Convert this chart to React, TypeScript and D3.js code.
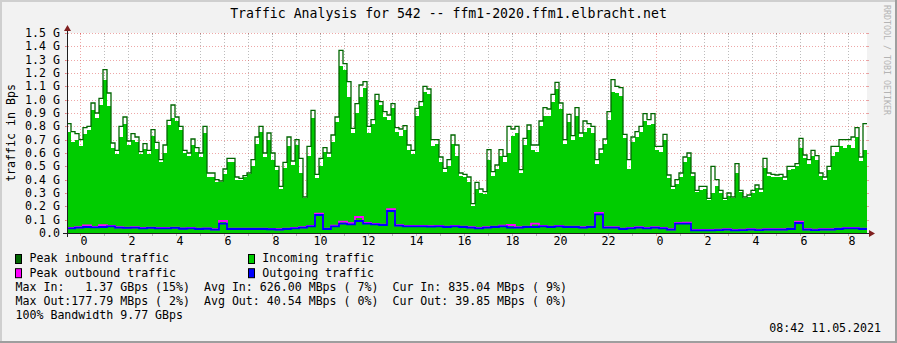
import React, { useEffect } from 'react';
import * as d3 from 'd3';

// ---------- data ----------
const title = 'Traffic Analysis for 542 -- ffm1-2020.ffm1.elbracht.net';
const yAxisTitle = 'traffic in Bps';
const watermark = 'RRDTOOL / TOBI OETIKER';
const timestamp = '08:42 11.05.2021';

// time window (UTC used as the local clock of the graph)
const startTime = Date.UTC(2021, 4, 9, 23, 27, 30);
const spanSeconds = 120000;
const inStepSeconds = 600;
const outStepSeconds = 1200;

// values in G (1e9) Bytes/s
const inPeak = [
  0.82, 0.76, 0.745, 0.70, 0.79, 0.80, 0.975, 0.90, 1.01, 1.225,
  1.05, 0.675, 0.62, 0.80, 0.87, 0.69, 0.745, 0.72, 0.61, 0.67,
  0.62, 0.775, 0.68, 0.55, 0.66, 0.845, 0.96, 0.87, 0.80, 0.62,
  0.60, 0.705, 0.64, 0.60, 0.80, 0.45, 0.45, 0.40, 0.39, 0.48,
  0.56, 0.56, 0.42, 0.41, 0.43, 0.45, 0.55, 0.72, 0.80, 0.60,
  0.75, 0.60, 0.50, 0.35, 0.53, 0.72, 0.54, 0.70, 0.56, 0.27,
  0.65, 0.92, 0.44, 0.56, 0.64, 0.60, 0.735, 0.87, 1.37, 1.27,
  1.135, 0.785, 0.97, 1.11, 1.135, 0.80, 0.85, 1.04, 0.985, 0.91,
  0.885, 0.97, 0.79, 0.78, 0.805, 0.66, 0.62, 0.935, 0.985, 1.10,
  1.08, 0.70, 0.70, 0.57, 0.485, 0.55, 0.735, 0.66, 0.45, 0.44,
  0.42, 0.22, 0.38, 0.33, 0.31, 0.625, 0.46, 0.51, 0.625, 0.575,
  0.80, 0.78, 0.80, 0.475, 0.71, 0.81, 0.66, 0.66, 0.84, 0.94,
  0.93, 1.04, 1.13, 0.975, 0.70, 0.89, 0.73, 0.94, 0.75, 0.84,
  0.82, 0.80, 0.55, 0.63, 0.705, 0.91, 1.15, 1.10, 1.09, 0.74,
  0.55, 0.72, 0.76, 0.80, 0.895, 0.85, 0.895, 0.65, 0.65, 0.74,
  0.435, 0.35, 0.40, 0.45, 0.57, 0.60, 0.45, 0.32, 0.35, 0.35,
  0.26, 0.50, 0.40, 0.32, 0.26, 0.30, 0.27, 0.52, 0.32, 0.27,
  0.285, 0.32, 0.36, 0.33, 0.56, 0.45, 0.44, 0.435, 0.44, 0.42,
  0.50, 0.50, 0.52, 0.71, 0.585, 0.55, 0.62, 0.58, 0.45, 0.42,
  0.50, 0.65, 0.65, 0.70, 0.70, 0.70, 0.72, 0.79, 0.57, 0.82,
];

const inAvg = [
  0.76, 0.68, 0.70, 0.65, 0.74, 0.77, 0.92, 0.86, 0.96, 1.15,
  0.95, 0.64, 0.59, 0.72, 0.82, 0.66, 0.70, 0.68, 0.59, 0.63,
  0.59, 0.73, 0.63, 0.53, 0.60, 0.81, 0.86, 0.84, 0.77, 0.60,
  0.58, 0.66, 0.61, 0.57, 0.75, 0.42, 0.42, 0.38, 0.38, 0.44,
  0.53, 0.53, 0.40, 0.40, 0.42, 0.44, 0.50, 0.67, 0.76, 0.57,
  0.70, 0.55, 0.47, 0.33, 0.49, 0.65, 0.51, 0.66, 0.45, 0.26,
  0.58, 0.86, 0.41, 0.50, 0.61, 0.57, 0.68, 0.83, 1.25, 1.22,
  1.02, 0.75, 0.90, 1.02, 1.09, 0.75, 0.82, 1.00, 0.96, 0.87,
  0.85, 0.94, 0.76, 0.73, 0.77, 0.62, 0.59, 0.88, 0.95, 1.06,
  1.04, 0.65, 0.67, 0.53, 0.46, 0.50, 0.67, 0.58, 0.43, 0.42,
  0.38, 0.20, 0.33, 0.30, 0.29, 0.55, 0.43, 0.48, 0.58, 0.53,
  0.60, 0.73, 0.75, 0.45, 0.66, 0.77, 0.62, 0.61, 0.80, 0.88,
  0.88, 0.98, 1.08, 0.93, 0.67, 0.83, 0.70, 0.88, 0.72, 0.76,
  0.79, 0.75, 0.52, 0.60, 0.67, 0.85, 1.06, 1.05, 1.03, 0.71,
  0.48, 0.68, 0.72, 0.76, 0.84, 0.81, 0.82, 0.62, 0.61, 0.70,
  0.41, 0.33, 0.37, 0.42, 0.53, 0.57, 0.43, 0.31, 0.32, 0.33,
  0.25, 0.30, 0.35, 0.30, 0.25, 0.28, 0.26, 0.45, 0.31, 0.26,
  0.27, 0.30, 0.34, 0.31, 0.49, 0.43, 0.42, 0.42, 0.42, 0.40,
  0.47, 0.48, 0.50, 0.64, 0.56, 0.52, 0.58, 0.55, 0.43, 0.40,
  0.47, 0.58, 0.61, 0.65, 0.64, 0.66, 0.64, 0.72, 0.54, 0.62,
];

const outAvg = [
  0.035, 0.04, 0.045, 0.042, 0.045, 0.05, 0.04, 0.038, 0.04, 0.035,
  0.038, 0.035, 0.035, 0.038, 0.032, 0.035, 0.03, 0.032, 0.025, 0.07,
  0.03, 0.03, 0.03, 0.03, 0.03, 0.028, 0.025, 0.03, 0.035, 0.04,
  0.05, 0.135, 0.03, 0.05, 0.07, 0.065, 0.09, 0.07, 0.065, 0.06,
  0.165, 0.055, 0.05, 0.05, 0.05, 0.048, 0.05, 0.045, 0.05, 0.045,
  0.04, 0.035, 0.04, 0.045, 0.05, 0.04, 0.04, 0.045, 0.045, 0.05,
  0.045, 0.05, 0.045, 0.045, 0.04, 0.045, 0.14, 0.04, 0.04, 0.03,
  0.035, 0.04, 0.035, 0.04, 0.035, 0.025, 0.07, 0.07, 0.02, 0.02,
  0.02, 0.022, 0.025, 0.02, 0.022, 0.025, 0.022, 0.025, 0.025, 0.025,
  0.03, 0.075, 0.025, 0.022, 0.025, 0.025, 0.03, 0.035, 0.035, 0.03,
];

const outPeak = [
  0.038, 0.043, 0.057, 0.045, 0.058, 0.053, 0.043, 0.041, 0.043, 0.038,
  0.041, 0.038, 0.038, 0.041, 0.035, 0.038, 0.033, 0.035, 0.028, 0.09,
  0.033, 0.033, 0.033, 0.033, 0.033, 0.031, 0.028, 0.033, 0.038, 0.043,
  0.053, 0.145, 0.033, 0.055, 0.085, 0.073, 0.12, 0.075, 0.068, 0.063,
  0.178, 0.058, 0.053, 0.053, 0.053, 0.051, 0.053, 0.048, 0.053, 0.048,
  0.043, 0.038, 0.043, 0.048, 0.055, 0.06, 0.043, 0.048, 0.07, 0.053,
  0.048, 0.053, 0.048, 0.048, 0.043, 0.048, 0.15, 0.043, 0.043, 0.033,
  0.038, 0.043, 0.038, 0.043, 0.038, 0.028, 0.075, 0.078, 0.023, 0.023,
  0.023, 0.025, 0.028, 0.023, 0.025, 0.028, 0.025, 0.028, 0.028, 0.028,
  0.033, 0.085, 0.028, 0.025, 0.028, 0.028, 0.033, 0.038, 0.038, 0.033,
];

const yTicks = [0, 0.1, 0.2, 0.3, 0.4, 0.5, 0.6, 0.7, 0.8, 0.9, 1.0, 1.1, 1.2, 1.3, 1.4, 1.5];

const legendLabels = ['Peak inbound traffic', 'Incoming traffic', 'Peak outbound traffic', 'Outgoing traffic'];
const legendColors = ['#006600', '#00CC00', '#FF00FF', '#0000FF'];

const statLines = [
  'Max In:   1.37 GBps (15%)  Avg In: 626.00 MBps ( 7%)  Cur In: 835.04 MBps ( 9%)',
  'Max Out:177.79 MBps ( 2%)  Avg Out: 40.54 MBps ( 0%)  Cur Out: 39.85 MBps ( 0%)',
  '100% Bandwidth 9.77 GBps',
];

// ---------- layout ----------
const W = 897;
const H = 343;
const X0 = 67;
const X1 = 867;
const YB = 233;
const YT = 33;
const FONT = '"DejaVu Sans Mono", monospace';
const FS = 11.6;

const GRID = 'rgba(143,143,143,0.6)';
const MGRID = 'rgba(222,79,79,0.5)';
const AXIS = '#1F1F1F';
const ARROW = '#801F1F';

function toPoints(values: number[], stepS: number): [number, number][] {
  const pts: [number, number][] = values.map((v, i) => [startTime + i * stepS * 1000, v]);
  pts.push([startTime + values.length * stepS * 1000, values[values.length - 1]]);
  return pts;
}

export default function App() {
  useEffect(() => {
    document.body.style.margin = '0';
  }, []);

  const x = d3.scaleUtc().domain([new Date(startTime), new Date(startTime + spanSeconds * 1000)]).range([X0, X1]);
  const y = d3.scaleLinear().domain([0, 1.5]).range([YB, YT]);

  const line = d3
    .line<[number, number]>()
    .x((d) => x(new Date(d[0])))
    .y((d) => y(d[1]))
    .curve(d3.curveStepAfter);
  const area = d3
    .area<[number, number]>()
    .x((d) => x(new Date(d[0])))
    .y0(YB)
    .y1((d) => y(d[1]))
    .curve(d3.curveStepAfter);

  const hours = d3.utcHour.range(new Date(startTime), new Date(startTime + spanSeconds * 1000));

  const inAvgPts = toPoints(inAvg, inStepSeconds);
  const inPeakPts = toPoints(inPeak, inStepSeconds);
  const outAvgPts = toPoints(outAvg, outStepSeconds);
  const outPeakPts = toPoints(outPeak, outStepSeconds);

  const legendRowY = [262.3, 276.5];
  const colBoxX = [15.5, 248.5];
  const colTextX = [29.5, 262.3];

  return (
    <svg
      width={W}
      height={H}
      viewBox={`0 0 ${W} ${H}`}
      style={{ position: 'absolute', left: 0, top: 0, display: 'block' }}
      fontFamily={FONT}
    >
      {/* background and shading */}
      <rect x={0} y={0} width={W} height={H} fill="#F2F2F2" />
      <rect x={0} y={0} width={W} height={2} fill="#CFCFCF" />
      <rect x={0} y={0} width={2} height={H} fill="#CFCFCF" />
      <rect x={0} y={H - 2} width={W} height={2} fill="#9E9E9E" />
      <rect x={W - 2} y={0} width={2} height={H} fill="#9E9E9E" />

      {/* canvas */}
      <rect x={X0} y={YT} width={X1 - X0} height={YB - YT} fill="#FFFFFF" />

      {/* vertical grid */}
      {hours.map((h, i) => {
        const gx = Math.round(x(h)) + 0.5;
        const major = h.getUTCHours() === 0;
        const c = major ? MGRID : GRID;
        return (
          <g key={'vg' + i}>
            <line x1={gx} x2={gx} y1={YT} y2={YB} stroke={c} strokeWidth={1} strokeDasharray="1,2" />
            <line x1={gx} x2={gx} y1={YT} y2={YT + 2} stroke={c} strokeWidth={1} />
            <line x1={gx} x2={gx} y1={YB} y2={YB + 3} stroke={c} strokeWidth={1} />
          </g>
        );
      })}

      {/* horizontal grid */}
      {yTicks.map((t, i) => {
        if (t === 0) return null;
        const gy = Math.round(y(t)) + 0.5;
        return (
          <g key={'hg' + i}>
            <line x1={X0 - 2} x2={X1 + 2} y1={gy} y2={gy} stroke={MGRID} strokeWidth={1} strokeDasharray="1,2" />
            <line x1={X0 - 2} x2={X0} y1={gy} y2={gy} stroke={MGRID} strokeWidth={1} />
            <line x1={X1} x2={X1 + 2} y1={gy} y2={gy} stroke={MGRID} strokeWidth={1} />
          </g>
        );
      })}

      {/* data */}
      <path d={area(inAvgPts) || ''} fill="#00CC00" shapeRendering="crispEdges" />
      <path d={line(inPeakPts) || ''} fill="none" stroke="#006600" strokeWidth={1.3} />
      <path d={line(outPeakPts) || ''} fill="none" stroke="#FF00FF" strokeWidth={1.8} />
      <path d={line(outAvgPts) || ''} fill="none" stroke="#0000FF" strokeWidth={1.8} />

      {/* axes */}
      <line x1={X0 - 4} x2={X1 + 4} y1={YB + 0.5} y2={YB + 0.5} stroke={AXIS} strokeWidth={1} />
      <line x1={X0 + 0.5} x2={X0 + 0.5} y1={YB + 4} y2={YT - 4} stroke={AXIS} strokeWidth={1} />
      <polygon points={`${X1 + 2},${YB - 3} ${X1 + 2},${YB + 4} ${X1 + 8},${YB + 0.5}`} fill={ARROW} />
      <polygon points={`${X0 - 3},${YT - 2} ${X0 + 4},${YT - 2} ${X0 + 0.5},${YT - 8}`} fill={ARROW} />

      {/* y tick labels */}
      {yTicks.map((t, i) => (
        <text key={'yl' + i} x={60} y={y(t) + 4} fontSize={FS} textAnchor="end" fill="#000">
          {t === 0 ? '0.0' : `${t.toFixed(1)} G`}
        </text>
      ))}

      {/* x tick labels */}
      {hours
        .filter((h) => h.getUTCHours() % 2 === 0)
        .map((h, i) => (
          <text key={'xl' + i} x={x(h) + 7.5} y={245.3} fontSize={FS} textAnchor="end" fill="#000">
            {d3.utcFormat('%-H')(h)}
          </text>
        ))}

      {/* title */}
      <text x={448.5} y={18.3} fontSize={13.2} textAnchor="middle" fill="#000">
        {title}
      </text>

      {/* y axis title */}
      <text
        x={0}
        y={0}
        transform={`translate(15.3,${(YT + YB) / 2}) rotate(-90)`}
        fontSize={FS}
        textAnchor="middle"
        fill="#000"
      >
        {yAxisTitle}
      </text>

      {/* watermark */}
      <text
        x={0}
        y={0}
        transform={`translate(884,60) rotate(90)`}
        fontSize={8.3}
        textAnchor="middle"
        fill="#B4B4B4"
      >
        {watermark}
      </text>

      {/* legend */}
      {legendLabels.map((lab, i) => {
        const row = Math.floor(i / 2);
        const col = i % 2;
        return (
          <g key={'lg' + i}>
            <rect
              x={colBoxX[col]}
              y={legendRowY[row] - 7.8}
              width={6}
              height={9}
              fill={legendColors[i]}
              stroke="#000"
              strokeWidth={1}
            />
            <text x={colTextX[col]} y={legendRowY[row]} fontSize={FS} fill="#000">
              {lab}
            </text>
          </g>
        );
      })}

      {statLines.map((s, i) => (
        <text
          key={'st' + i}
          x={15.5}
          y={290.7 + i * 14.2}
          fontSize={FS}
          fill="#000"
          xmlSpace="preserve"
          style={{ whiteSpace: 'pre' }}
        >
          {s}
        </text>
      ))}

      <text x={881} y={332} fontSize={FS} textAnchor="end" fill="#000">
        {timestamp}
      </text>
    </svg>
  );
}
